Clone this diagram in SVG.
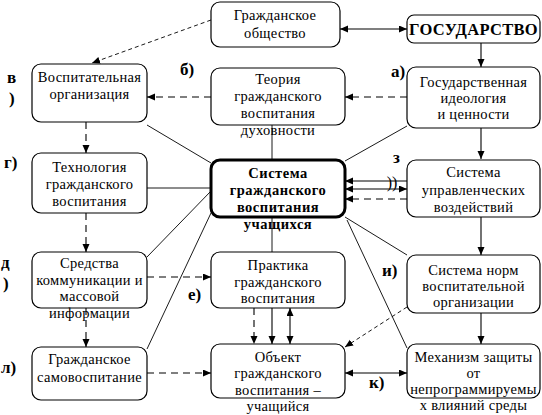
<svg xmlns="http://www.w3.org/2000/svg" width="542" height="415" viewBox="0 0 542 415" font-family="'Liberation Serif', 'DejaVu Serif', 'Times New Roman', serif">
<defs>
<marker id="ah" markerUnits="userSpaceOnUse" markerWidth="9" markerHeight="8" refX="8" refY="3.5" orient="auto-start-reverse">
<path d="M0,0 L8,3.5 L0,7 z" fill="#000"/>
</marker>
<style>
.box{fill:#fff;stroke:#000;stroke-width:1.2}
.main{fill:#fff;stroke:#000;stroke-width:3}
text{font-family:'Liberation Serif','DejaVu Serif','Times New Roman',serif;font-size:14.5px;fill:#000;text-anchor:middle;letter-spacing:0.3px}
.b{font-weight:bold;letter-spacing:0.5px}
.lbl{font-weight:bold;font-size:17px;text-anchor:start;letter-spacing:0}
.sl{stroke:#000;stroke-width:1.1;fill:none}
.th{stroke:#000;stroke-width:0.9;fill:none}
.ds{stroke:#000;stroke-width:1.1;fill:none;stroke-dasharray:7,5}
.ds2{stroke:#000;stroke-width:0.9;fill:none;stroke-dasharray:4,3}
.e{marker-end:url(#ah)}
.be{marker-start:url(#ah);marker-end:url(#ah)}
</style>
</defs>

<g id="connectors">
<line class="sl be" x1="340" y1="29" x2="407" y2="29"/>
<line class="sl e" x1="481" y1="43" x2="481" y2="67"/>
<line class="sl e" x1="481" y1="128" x2="481" y2="159"/>
<line class="sl e" x1="481" y1="217" x2="481" y2="255"/>
<line class="sl e" x1="481" y1="313" x2="481" y2="344"/>
<line class="sl e" x1="407" y1="181" x2="345" y2="181"/>
<line class="sl be" x1="345" y1="189" x2="407" y2="189"/>
<line class="ds e" x1="407" y1="199" x2="345" y2="199"/>
<line class="sl be" x1="345" y1="373" x2="407" y2="373"/>
<line class="sl e" x1="272" y1="308" x2="272" y2="344"/>
<line class="sl be" x1="290" y1="308" x2="290" y2="344"/>
<line class="ds e" x1="254" y1="308" x2="254" y2="344"/>
<line class="ds2 e" x1="211" y1="20" x2="92" y2="63"/>
<line class="ds e" x1="407" y1="97" x2="345" y2="97"/>
<line class="ds e" x1="211" y1="97" x2="147" y2="97"/>
<line class="ds e" x1="86" y1="122" x2="86" y2="153"/>
<line class="ds e" x1="86" y1="213" x2="86" y2="252"/>
<line class="ds e" x1="86" y1="308" x2="86" y2="347"/>
<line class="ds e" x1="147" y1="277" x2="211" y2="277"/>
<line class="ds e" x1="147" y1="373" x2="211" y2="373"/>
<line class="ds2 e" x1="407" y1="307" x2="345" y2="347"/>
<line class="th" x1="147" y1="125" x2="211" y2="163"/>
<line class="th" x1="147" y1="188" x2="211" y2="188"/>
<line class="th" x1="147" y1="257" x2="211" y2="191"/>
<line class="th" x1="147" y1="349" x2="211" y2="213"/>
<line class="th" x1="407" y1="126" x2="345" y2="161"/>
<line class="th" x1="345" y1="217" x2="407" y2="255"/>
<line class="th" x1="347" y1="220" x2="407" y2="348"/>
<line class="th" x1="272" y1="118" x2="272" y2="159"/>
<line class="th" x1="272" y1="217" x2="272" y2="252"/>
</g>

<g id="n-obshchestvo">
<rect class="box" x="211" y="2" width="129" height="45" rx="9"/>
<text x="275" y="20">Гражданское</text>
<text x="275" y="38">общество</text>
</g>

<g id="n-gosudarstvo">
<rect class="box" x="407" y="15" width="133" height="28" rx="7"/>
<text x="473.5" y="35" class="b" style="font-size:16.5px;letter-spacing:0.3px">ГОСУДАРСТВО</text>
</g>

<g id="n-vospit-org">
<rect class="box" x="32" y="64" width="115" height="58" rx="9"/>
<text x="89.5" y="82">Воспитательная</text>
<text x="89.5" y="99">организация</text>
</g>

<g id="n-teoriya">
<rect class="box" x="211" y="68" width="134" height="57" rx="9"/>
<text x="278" y="84">Теория</text>
<text x="278" y="101">гражданского</text>
<text x="278" y="118">воспитания</text>
<text x="278" y="135">духовности</text>
</g>

<g id="n-ideologiya">
<rect class="box" x="407" y="67" width="133" height="61" rx="9"/>
<text x="473.5" y="87">Государственная</text>
<text x="473.5" y="103">идеология</text>
<text x="473.5" y="119">и ценности</text>
</g>

<g id="n-tekhnologiya">
<rect class="box" x="32" y="153" width="115" height="60" rx="9"/>
<text x="89.5" y="172">Технология</text>
<text x="89.5" y="189">гражданского</text>
<text x="89.5" y="206">воспитания</text>
</g>

<g id="n-sistema">
<rect class="main" x="211" y="160" width="134" height="57" rx="9"/>
<text class="b" x="278" y="178">Система</text>
<text class="b" x="278" y="195">гражданского</text>
<text class="b" x="278" y="212">воспитания</text>
<text class="b" x="278" y="229">учащихся</text>
</g>

<g id="n-upravl">
<rect class="box" x="407" y="160" width="133" height="57" rx="9"/>
<text x="473.5" y="177">Система</text>
<text x="473.5" y="195">управленческих</text>
<text x="473.5" y="212">воздействий</text>
</g>

<g id="n-sredstva">
<rect class="box" x="32" y="252" width="115" height="56" rx="9"/>
<text x="89.5" y="268">Средства</text>
<text x="89.5" y="285">коммуникации и</text>
<text x="89.5" y="301">массовой</text>
<text x="89.5" y="318">информации</text>
</g>

<g id="n-praktika">
<rect class="box" x="211" y="252" width="134" height="56" rx="9"/>
<text x="278" y="270">Практика</text>
<text x="278" y="287">гражданского</text>
<text x="278" y="303">воспитания</text>
</g>

<g id="n-normy">
<rect class="box" x="407" y="255" width="133" height="58" rx="9"/>
<text x="473.5" y="275">Система норм</text>
<text x="473.5" y="291">воспитательной</text>
<text x="473.5" y="307">организации</text>
</g>

<g id="n-samovosp">
<rect class="box" x="32" y="347" width="115" height="53" rx="9"/>
<text x="89.5" y="364">Гражданское</text>
<text x="89.5" y="382">самовоспитание</text>
</g>

<g id="n-obekt">
<rect class="box" x="211" y="344" width="134" height="54" rx="9"/>
<text x="278" y="362">Объект</text>
<text x="278" y="378">гражданского</text>
<text x="278" y="395">воспитания –</text>
<text x="278" y="411">учащийся</text>
</g>

<g id="n-mekhanizm">
<rect class="box" x="407" y="344" width="133" height="54" rx="9"/>
<text x="473.5" y="362">Механизм защиты</text>
<text x="473.5" y="378">от</text>
<text x="473.5" y="394">непрограммируемы</text>
<text x="473.5" y="410">х влияний среды</text>
</g>

<g id="labels">
<text class="lbl" x="7" y="83">в</text>
<text class="lbl" x="9" y="104">)</text>
<text class="lbl" x="180" y="75">б)</text>
<text class="lbl" x="391" y="77">а)</text>
<text class="lbl" x="4" y="168">г)</text>
<text class="lbl" x="393" y="163">з</text>
<text x="392" y="188" style="font-size:16px;letter-spacing:0">))</text>
<text class="lbl" x="1" y="268">д</text>
<text class="lbl" x="3" y="289">)</text>
<text class="lbl" x="188" y="300">е)</text>
<text class="lbl" x="382" y="276">и)</text>
<text class="lbl" x="1" y="373">л)</text>
<text class="lbl" x="369" y="388">к)</text>
</g>
</svg>
